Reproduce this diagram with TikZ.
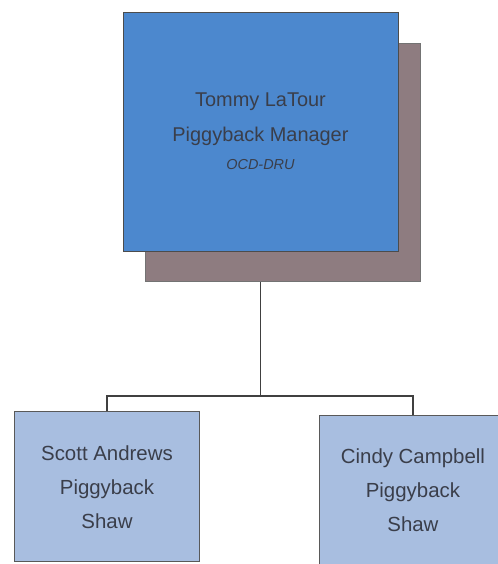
\documentclass[tikz,border=0pt]{standalone}
\usepackage{fontspec}
\setmainfont{Liberation Sans}
\usetikzlibrary{positioning}
\definecolor{mgrblue}{RGB}{76,136,206}
\definecolor{shadowmauve}{RGB}{142,124,128}
\definecolor{staffblue}{RGB}{168,190,224}
\definecolor{inkgray}{RGB}{58,62,74}
\tikzset{
  mgrbox/.style={draw=black!70, fill=mgrblue, line width=0.8pt,
                 minimum width=9.70cm, minimum height=8.43cm, align=center,
                 text=inkgray, inner sep=0pt,
                 font=\fontsize{20}{35}\selectfont},
  shadowbox/.style={draw=black!55, fill=shadowmauve, line width=0.8pt,
                    minimum width=9.70cm, minimum height=8.43cm, inner sep=0pt},
  staffbox/.style={draw=black!65, fill=staffblue, line width=1pt,
                   minimum width=6.56cm, minimum height=5.29cm, align=center,
                   text=inkgray, inner sep=0pt,
                   font=\fontsize{20.5}{34}\selectfont},
  orgline/.style={draw=black!75, line width=1.2pt},
}
\begin{document}
\begin{tikzpicture}
\useasboundingbox (0,0) rectangle (17.57,-19.90);
\clip (0,0) rectangle (17.57,-19.90);

% manager with its shadow
\node[shadowbox] (mgrshadow) at (9.97,-5.73) {};
\node[mgrbox] (mgr) at (9.19,-4.64)
  {Tommy LaTour\\Piggyback Manager\\[-7pt]
   {\fontsize{14.5}{20}\selectfont\itshape OCD-DRU}};

% staff
\node[staffbox] (scott) at (3.775,-17.18) {Scott Andrews\\Piggyback\\Shaw};
\node[staffbox] (cindy) at (14.57,-17.29) {Cindy Campbell\\Piggyback\\Shaw};

\coordinate (bus) at (9.19,-13.97);
\draw[orgline] (mgrshadow.south -| mgr) -- (bus);
\draw[orgline] (scott.north) |- (bus) -| (cindy.north);

\end{tikzpicture}
\end{document}
